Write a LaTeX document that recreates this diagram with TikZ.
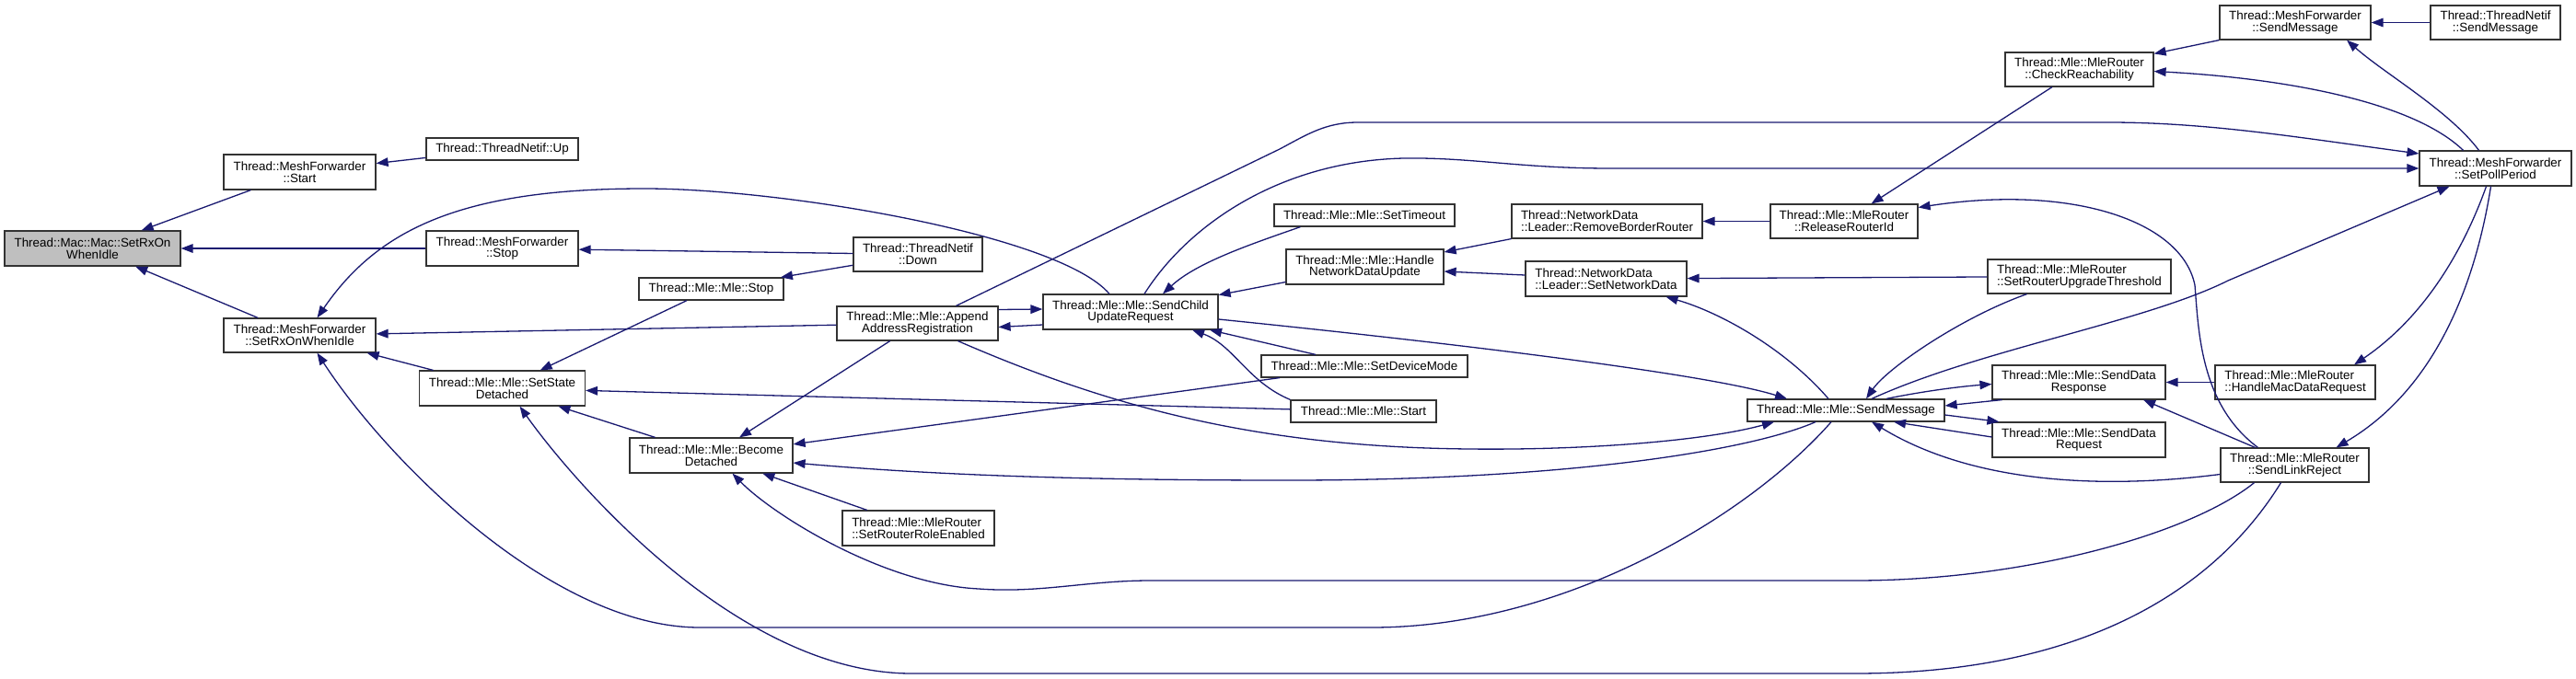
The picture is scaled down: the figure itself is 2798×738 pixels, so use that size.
\documentclass[tikz,border=0pt]{standalone}
\usepackage{fontspec}
\newfontfamily\gfont{Liberation Sans}
\usetikzlibrary{arrows.meta,calc}
\definecolor{edgeblue}{HTML}{191970}
\definecolor{rootgray}{HTML}{BFBFBF}
\tikzset{
  box/.style={draw=black!80, fill=white, line width=0.6pt, inner sep=0pt, align=center,
    font=\gfont\fontsize{6.7}{6.4}\selectfont},
  lbox/.style={box, align=left},
  sz/.style 2 args={minimum width=#1*0.5pt, minimum height=#2*0.5pt},
  edge/.style={draw=edgeblue, line width=0.65pt, -{Triangle[length=6.5pt,width=4.8pt]}}
}
\begin{document}
\begin{tikzpicture}[x=0.5pt,y=-0.5pt]
\useasboundingbox (0,0) rectangle (2798,738);
% nodes
\node[box, sz={191}{38}, fill=rootgray] (root) at (100.5,270) {Thread::Mac::Mac::SetRxOn\\WhenIdle};
\node[box, sz={165}{38}] (mfStart) at (325.5,187) {Thread::MeshForwarder\\::Start};
\node[box, sz={165}{24}] (up) at (545.5,162) {Thread::ThreadNetif::Up};
\node[box, sz={165}{38}] (mfStop) at (545.5,270) {Thread::MeshForwarder\\::Stop};
\node[box, sz={165}{37}] (mfSetRx) at (325.5,364.5) {Thread::MeshForwarder\\::SetRxOnWhenIdle};
\node[box, sz={180}{38}] (setState) at (545.5,422) {Thread::Mle::Mle::SetState\\Detached};
\node[box, sz={157}{24}] (mleStop) at (772.5,314) {Thread::Mle::Mle::Stop};
\node[box, sz={177}{38}] (become) at (772.5,495) {Thread::Mle::Mle::Become\\Detached};
\node[box, sz={140}{37}] (down) at (997,276.5) {Thread::ThreadNetif\\::Down};
\node[box, sz={175}{37}] (append) at (996.5,351.5) {Thread::Mle::Mle::Append\\AddressRegistration};
\node[lbox, sz={165}{38}] (roleEnabled) at (997.5,574) {Thread::Mle::MleRouter\\::SetRouterRoleEnabled};
\node[box, sz={190}{38}] (sendChild) at (1228,339) {Thread::Mle::Mle::SendChild\\UpdateRequest};
\node[box, sz={196}{24}] (setTimeout) at (1482,234) {Thread::Mle::Mle::SetTimeout};
\node[box, sz={171}{38}] (handleNDU) at (1482.5,290) {Thread::Mle::Mle::Handle\\NetworkDataUpdate};
\node[box, sz={224}{24}] (setDevMode) at (1482,398) {Thread::Mle::Mle::SetDeviceMode};
\node[box, sz={158}{24}] (mleStart) at (1481,447) {Thread::Mle::Mle::Start};
\node[lbox, sz={207}{37}] (removeBR) at (1745.5,240.5) {Thread::NetworkData\\::Leader::RemoveBorderRouter};
\node[lbox, sz={175}{38}] (setND) at (1744.5,303) {Thread::NetworkData\\::Leader::SetNetworkData};
\node[box, sz={160}{37}] (release) at (2003,240.5) {Thread::Mle::MleRouter\\::ReleaseRouterId};
\node[box, sz={214}{24}] (sendMsg) at (2005,446) {Thread::Mle::Mle::SendMessage};
\node[box, sz={161}{37}] (checkR) at (2258.5,75.5) {Thread::Mle::MleRouter\\::CheckReachability};
\node[lbox, sz={199}{37}] (upgrade) at (2258.5,300.5) {Thread::Mle::MleRouter\\::SetRouterUpgradeThreshold};
\node[box, sz={188}{37}] (sdResp) at (2258,415.5) {Thread::Mle::Mle::SendData\\Response};
\node[box, sz={188}{38}] (sdReq) at (2258,478) {Thread::Mle::Mle::SendData\\Request};
\node[box, sz={164}{37}] (mfSend) at (2493,24.5) {Thread::MeshForwarder\\::SendMessage};
\node[lbox, sz={174}{37}] (hmdr) at (2493,415.5) {Thread::Mle::MleRouter\\::HandleMacDataRequest};
\node[box, sz={161}{37}] (linkRej) at (2492.5,505.5) {Thread::Mle::MleRouter\\::SendLinkReject};
\node[box, sz={141}{37}] (tnSend) at (2710.5,24.5) {Thread::ThreadNetif\\::SendMessage};
\node[box, sz={165}{38}] (poll) at (2710.5,183) {Thread::MeshForwarder\\::SetPollPeriod};
% edges
\draw[edge] (mfStart) -- (root);
\draw[edge] (mfStop) -- (root);
\draw[edge] (mfSetRx) -- (root);
\draw[edge] (up) -- (mfStart);
\draw[edge] (down) -- (mfStop);
\draw[edge] (down) -- (mleStop);
\draw[edge] ($(sendChild.north)+(-23,0)$) .. controls (1150,255) and (850,205) .. (700,205) .. controls (500,205) and (410,250) .. ($(mfSetRx.north)+(19,0)$);
\draw[edge] (append) -- (mfSetRx);
\draw[edge] (setState) -- (mfSetRx);
\draw[edge] ($(sendMsg.south)+(-16,0)$) .. controls (1900,560) and (1700,682) .. (1490,682) -- (760,682) .. controls (600,682) and (420,500) .. ($(mfSetRx.south)+(19,0)$);
\draw[edge] ($(linkRej.south)+(-15,0)$) .. controls (2400,650) and (2250,732) .. (2015,732) -- (990,732) .. controls (800,732) and (620,520) .. ($(setState.south)+(19,0)$);
\draw[edge] ($(linkRej.south)+(-44,0)$) .. controls (2380,580) and (2200,631) .. (2015,631) -- (1250,631) .. controls (1180,631) and (1130,645) .. (1063,640) .. controls (960,635) and (840,560) .. ($(become.south)+(23,0)$);
\draw[edge] (mleStop) -- (setState);
\draw[edge] (mleStart) -- (setState);
\draw[edge] (become) -- (setState);
\draw[edge] (append) -- (become);
\draw[edge] (setDevMode) -- (become);
\draw[edge] (roleEnabled) -- (become);
\draw[edge] ($(sendMsg.south)+(-33,0)$) .. controls (1900,490) and (1700,522) .. (1400,522) .. controls (1150,522) and (1000,515) .. ($(become.east)+(0,8)$);
\draw[edge] ($(append.south)+(44,0)$) .. controls (1200,440) and (1350,480) .. (1550,487) .. controls (1700,492) and (1850,480) .. ($(sendMsg.south)+(-78,0)$);
\draw[edge] ($(sendChild.east)+(0,8)$) .. controls (1550,370) and (1850,405) .. ($(sendMsg.north)+(-64,0)$);
\draw[edge] ($(upgrade.south)+(-57,0)$) .. controls (2130,345) and (2050,400) .. ($(sendMsg.north)+(22,0)$);
\draw[edge] ($(sendMsg.north)+(-19,0)$) .. controls (1940,380) and (1870,340) .. ($(setND.south)+(65,0)$);
\draw[edge] ($(sendMsg.north)+(28,0)$) .. controls (2150,380) and (2330,350) .. (2420,305) -- ($(poll.south)+(-50,0)$);
\draw[edge] ($(sendMsg.north)+(44,0)$) .. controls (2090,425) and (2130,420) .. ($(sdResp.west)+(0,2)$);
\draw[edge] ($(sdResp.south west)+(11,0)$) -- ($(sendMsg.east)+(0,-5)$);
\draw[edge] ($(sendMsg.east)+(0,5)$) -- ($(sdReq.north west)+(8,0)$);
\draw[edge] ($(sdReq.west)+(0,-3)$) -- ($(sendMsg.south)+(52,0)$);
\draw[edge] ($(linkRej.west)+(0,10)$) .. controls (2300,530) and (2150,530) .. ($(sendMsg.south)+(28,0)$);
\draw[edge] ($(linkRej.north)+(-43,0)$) -- ($(sdResp.south)+(70,0)$);
\draw[edge] (hmdr) -- (sdResp);
\draw[edge] ($(poll.south)+(-10,0)$) .. controls (2680,260) and (2640,340) .. ($(hmdr.north)+(64,0)$);
\draw[edge] ($(poll.south)+(-5,0)$) .. controls (2690,300) and (2650,420) .. ($(linkRej.north)+(45,0)$);
\draw[edge] ($(linkRej.north)+(-40,0)$) .. controls (2390,440) and (2388,360) .. (2384,310) .. controls (2370,240) and (2250,200) .. ($(release.east)+(0,-15)$);
\draw[edge] (checkR) -- (release);
\draw[edge] (release) -- (removeBR);
\draw[edge] (removeBR.south west) -- ($(handleNDU.east)+(0,-16)$);
\draw[edge] ($(setND.west)+(0,-4)$) -- ($(handleNDU.east)+(0,5)$);
\draw[edge] (upgrade) -- (setND);
\draw[edge] (handleNDU) -- (sendChild);
\draw[edge] ($(setTimeout.south west)+(29,0)$) .. controls (1360,265) and (1300,285) .. ($(sendChild.north)+(35,0)$);
\draw[edge] ($(setDevMode.north)+(-53,0)$) -- ($(sendChild.south)+(86,0)$);
\draw[edge] (mleStart.north west) .. controls (1355,415) and (1340,375) .. ($(sendChild.south)+(67,0)$);
\draw[edge] ($(append.east)+(0,-15)$) -- ($(sendChild.west)+(0,-3)$);
\draw[edge] ($(sendChild.west)+(0,14)$) -- ($(append.east)+(0,4)$);
\draw[edge] ($(sendChild.north)+(15,0)$) .. controls (1290,245) and (1390,175) .. (1525,172) .. controls (1600,171) and (1650,183) .. (1750,183) -- (poll.west);
\draw[edge] ($(append.north)+(42,0)$) -- (1390,162) .. controls (1420,146) and (1440,133) .. (1475,133) -- (2290,133) .. controls (2400,133) and (2500,150) .. ($(poll.west)+(0,-16)$);
\draw[edge] (mfSend.south west) -- ($(checkR.north east)+(0,2)$);
\draw[edge] (tnSend) -- (mfSend);
\draw[edge] ($(poll.north)+(-18,0)$) .. controls (2660,120) and (2590,80) .. ($(mfSend.south)+(56,0)$);
\draw[edge] ($(poll.north)+(-35,0)$) .. controls (2620,110) and (2480,85) .. ($(checkR.east)+(0,2)$);
\end{tikzpicture}
\end{document}
